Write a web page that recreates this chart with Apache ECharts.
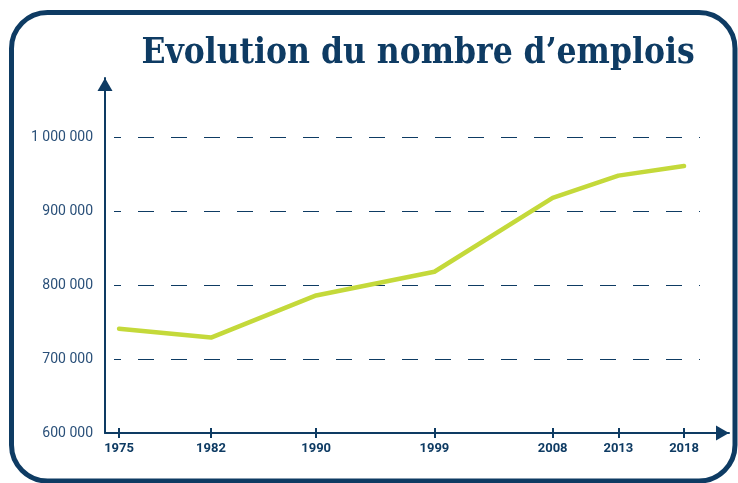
<!DOCTYPE html>
<html>
<head>
<meta charset="utf-8">
<script src="https://cdn.jsdelivr.net/npm/echarts@6/dist/echarts.min.js"></script>
<style>html,body{margin:0;padding:0;background:#fff}#c{width:738px;height:483px}</style>
</head>
<body>
<div id="c"></div>
<script>
const years = [1975, 1982, 1990, 1999, 2008, 2013, 2018];
const emplois = [741000, 729000, 786000, 818000, 918000, 948000, 961000];
const yTicks = [600000, 700000, 800000, 900000, 1000000];
const title = 'Evolution du nombre d\u2019emplois';

const NAVY = '#0e3b63';
const fmt = v => String(v).replace(/\B(?=(\d{3})+(?!\d))/g, ' ');

const chart = echarts.init(document.getElementById('c'), null, {renderer: 'canvas'});
chart.setOption({
  animation: false,
  backgroundColor: '#fff',
  title: {
    text: title,
    left: 413, top: 31, textAlign: 'center',
    textStyle: {fontFamily: '"DejaVu Serif Condensed", "DejaVu Serif"', fontWeight: 'bold', fontSize: 35, color: NAVY}
  },
  graphic: [{
    type: 'rect', z: 100,
    shape: {x: 11.5, y: 12.5, width: 723.5, height: 468.5, r: 36},
    style: {fill: null, stroke: NAVY, lineWidth: 5}
  }],
  grid: [
    {left: 105, right: 9, top: 78, bottom: 50},
    {left: 114, right: 38, top: 137, bottom: 124}
  ],
  xAxis: [
    {
      gridIndex: 0, type: 'value', min: 1973.93, max: 2021.42,
      axisLine: {lineStyle: {color: NAVY, width: 2}, symbol: ['none', 'triangle'], symbolSize: [15, 13], symbolOffset: [0, -6.5]},
      axisTick: {show: true, customValues: years, length: 5, lineStyle: {color: NAVY, width: 2}},
      axisLabel: {customValues: years, formatter: v => String(v), margin: 9,
        fontFamily: 'Roboto', fontWeight: 'bold', fontSize: 13, color: NAVY},
      splitLine: {show: false}
    },
    {
      gridIndex: 0, type: 'value', min: 1973.93, max: 2021.42, position: 'bottom',
      axisLine: {show: false},
      axisTick: {show: true, inside: true, customValues: years, length: 5, lineStyle: {color: NAVY, width: 2}},
      axisLabel: {show: false},
      splitLine: {show: false}
    },
    {
      gridIndex: 1, type: 'value', min: 0, max: 1, show: false
    }
  ],
  yAxis: [
    {
      gridIndex: 0, type: 'value', min: 600000, max: 1080000, interval: 100000,
      axisLine: {show: true, lineStyle: {color: NAVY, width: 2}, symbol: ['none', 'triangle'], symbolSize: [15, 13], symbolOffset: [0, -6.5]},
      axisTick: {show: false},
      axisLabel: {customValues: yTicks, formatter: fmt, margin: 12,
        fontFamily: 'Roboto', fontSize: 14, color: '#2a5079'},
      splitLine: {show: false}
    },
    {
      gridIndex: 1, type: 'value', min: 700000, max: 1000000, interval: 100000,
      axisLine: {show: false}, axisTick: {show: false}, axisLabel: {show: false},
      splitLine: {show: true, lineStyle: {color: NAVY, width: 1, type: [16, 17], dashOffset: 9}}
    }
  ],
  series: [{
    type: 'line',
    xAxisIndex: 0, yAxisIndex: 0,
    data: years.map((y, i) => [y, emplois[i]]),
    showSymbol: false, symbol: 'none',
    lineStyle: {color: '#c4d93a', width: 4.5, cap: 'round', join: 'round'},
    z: 5
  }]
});
</script>
</body>
</html>
